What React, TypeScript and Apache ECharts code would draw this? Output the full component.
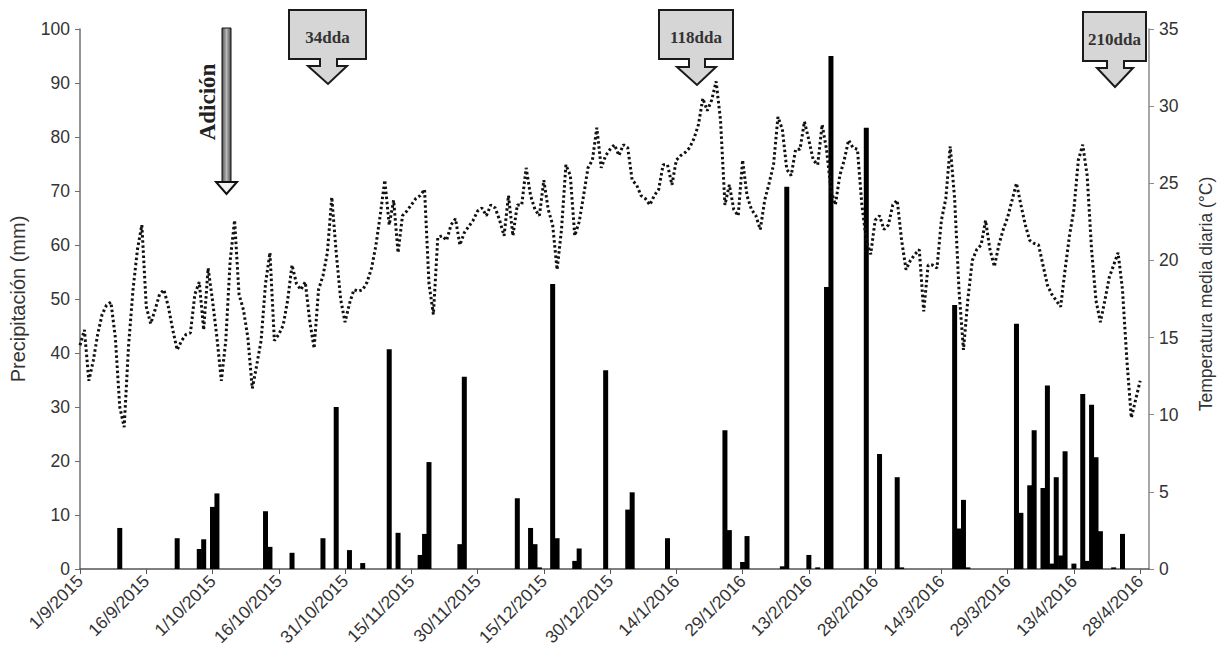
import React, { useEffect, useRef } from "react";
import * as echarts from "echarts";

// ---------- DATA ----------
const START_UTC = Date.UTC(2015, 8, 1);
const DAY_COUNT = 243; // 1/9/2015 .. 30/4/2016
const dates: string[] = Array.from({ length: DAY_COUNT }, (_, i) => {
  const d = new Date(START_UTC + i * 86400000);
  return `${d.getUTCDate()}/${d.getUTCMonth() + 1}/${d.getUTCFullYear()}`;
});

// Precipitation events (day index from 1/9/2015, mm)
const rainDays = [
  9, 22, 27, 28, 30, 31, 42, 43, 48, 55, 58, 61, 64, 70, 72, 77, 78, 79, 86, 87,
  99, 102, 103, 104, 107, 108, 112, 113, 119, 124, 125, 133, 146, 147, 150, 151,
  159, 160, 165, 167, 169, 170, 178, 181, 185, 186, 198, 199, 200, 201, 212, 213,
  215, 216, 218, 219, 220, 221, 222, 223, 225, 227, 228, 229, 230, 231, 234, 236,
];
const rainMm = [
  7.6, 5.7, 3.7, 5.5, 11.5, 14.0, 10.7, 4.1, 3.0, 5.7, 30.0, 3.5, 1.1, 40.7, 6.7, 2.6, 6.5, 19.8, 4.6, 35.6,
  13.1, 7.6, 4.6, 0.3, 52.8, 5.7, 1.5, 3.8, 36.8, 11.0, 14.2, 5.7, 25.7, 7.2, 1.3, 6.1,
  0.5, 70.8, 2.6, 0.3, 52.2, 95.0, 81.7, 21.3, 17.0, 0.3, 48.9, 7.5, 12.8, 0.3, 45.4, 10.4,
  15.5, 25.7, 15.0, 34.0, 1.0, 17.0, 2.5, 21.8, 1.0, 32.4, 1.5, 30.4, 20.7, 7.0, 0.3, 6.5,
];

// Daily mean temperature (°C), from 1/9/2015
const temperature = [
  14.5, 15.5, 12.2, 13.5, 15.2, 16.5, 17.1, 17.3, 15.0, 10.5,
  9.2, 14.5, 18.1, 20.7, 22.3, 17.0, 15.9, 16.8, 17.8, 18.1,
  17.0, 15.5, 14.2, 14.8, 15.2, 15.3, 17.8, 18.6, 15.5, 19.5,
  17.4, 15.0, 12.2, 14.8, 20.0, 22.6, 17.8, 16.8, 15.0, 11.7,
  13.2, 14.8, 18.5, 20.5, 14.8, 15.2, 15.8, 17.4, 19.7, 18.5,
  18.1, 18.6, 16.1, 14.3, 18.1, 19.0, 20.5, 24.1, 20.5, 17.5,
  16.0, 17.2, 18.1, 18.0, 18.1, 18.6, 19.5, 21.0, 23.0, 25.2,
  22.3, 23.9, 20.5, 22.9, 23.2, 23.6, 24.0, 24.2, 24.6, 18.5,
  16.5, 21.5, 21.6, 21.3, 22.3, 22.7, 21.0, 21.8, 22.2, 22.6,
  23.2, 23.4, 22.9, 23.6, 23.4, 22.6, 21.6, 24.2, 21.6, 23.6,
  23.6, 26.0, 24.2, 23.3, 22.9, 25.2, 23.3, 22.3, 19.4, 22.0,
  26.2, 25.5, 21.6, 22.5, 24.2, 26.0, 26.5, 28.6, 26.0, 26.8,
  27.2, 27.5, 26.8, 27.5, 27.3, 25.2, 24.9, 24.2, 24.0, 23.6,
  24.2, 24.6, 26.2, 26.2, 24.9, 26.5, 26.8, 27.0, 27.3, 27.9,
  28.8, 30.5, 29.7, 30.4, 31.6, 29.1, 23.6, 24.9, 23.3, 22.9,
  26.5, 24.2, 23.3, 22.9, 22.0, 23.9, 25.0, 26.2, 29.3, 28.5,
  25.9, 25.5, 27.2, 27.2, 29.0, 27.8, 26.5, 26.2, 28.8, 27.2,
  24.6, 23.6, 25.5, 26.5, 27.8, 27.3, 27.2, 23.6, 21.3, 20.4,
  22.6, 22.9, 22.0, 22.3, 23.6, 23.9, 21.3, 19.4, 20.0, 20.4,
  20.7, 16.7, 19.7, 19.7, 19.5, 22.6, 24.0, 27.4, 24.0, 18.0,
  14.2, 17.5, 20.0, 20.7, 21.0, 22.6, 20.7, 19.6, 21.0, 22.0,
  22.8, 23.9, 25.0, 23.6, 22.3, 21.3, 21.1, 21.0, 19.7, 18.4,
  17.8, 17.4, 17.0, 19.4, 21.6, 23.3, 26.5, 27.5, 25.5, 20.7,
  17.4, 16.0, 17.4, 18.9, 19.7, 20.5, 18.1, 13.5, 9.8, 11.0,
  12.2,
];

const precipitation: number[] = dates.map(() => 0);
rainDays.forEach((d, i) => {
  precipitation[d] = rainMm[i];
});
const tempSeries: (number | null)[] = dates.map((_, i) =>
  i < temperature.length ? temperature[i] : null
);

// ---------- ANNOTATIONS ----------
type Callout = { label: string; x0: number; x1: number; y0: number; y1: number; sL: number; sR: number; hL: number; hR: number; hy: number; tx: number; ty: number };
const callouts: Callout[] = [
  { label: "34dda", x0: 289, x1: 366, y0: 10, y1: 59, sL: 320, sR: 337, hL: 308, hR: 347, hy: 66, tx: 328, ty: 84 },
  { label: "118dda", x0: 659, x1: 733, y0: 10, y1: 59, sL: 689, sR: 705, hL: 677, hR: 716, hy: 67, tx: 697, ty: 85 },
  { label: "210dda", x0: 1083, x1: 1146, y0: 12, y1: 61, sL: 1107, sR: 1124, hL: 1097, hR: 1133, hy: 68, tx: 1115, ty: 87 },
];

const SANS = "'Liberation Sans', Arial, sans-serif";
const SERIF = "'Liberation Serif', 'Times New Roman', serif";

function buildGraphic() {
  const els: any[] = [];
  // Adición arrow
  els.push({
    type: "rect",
    shape: { x: 222, y: 28, width: 9, height: 154 },
    style: {
      fill: new echarts.graphic.LinearGradient(0, 0, 1, 0, [
        { offset: 0, color: "#4a4a4a" },
        { offset: 0.5, color: "#b8b8b8" },
        { offset: 1, color: "#4a4a4a" },
      ]),
      stroke: "#111",
      lineWidth: 1,
    },
  });
  els.push({
    type: "polygon",
    shape: { points: [[216, 182], [237, 182], [226.5, 194]] },
    style: { fill: "#f2f2f2", stroke: "#111", lineWidth: 2 },
  });
  els.push({
    type: "text",
    x: 207,
    y: 102,
    rotation: Math.PI / 2,
    style: {
      text: "Adición",
      font: `bold 23px ${SERIF}`,
      fill: "#222",
      align: "center",
      verticalAlign: "middle",
    },
  });
  callouts.forEach((c) => {
    els.push({
      type: "polygon",
      shape: {
        points: [
          [c.x0, c.y0], [c.x1, c.y0], [c.x1, c.y1], [c.sR, c.y1], [c.sR, c.hy],
          [c.hR, c.hy], [c.tx, c.ty], [c.hL, c.hy], [c.sL, c.hy], [c.sL, c.y1], [c.x0, c.y1],
        ],
      },
      style: { fill: "#d6d6d6", stroke: "#1a1a1a", lineWidth: 2, lineJoin: "miter" },
    });
    els.push({
      type: "text",
      x: (c.x0 + c.x1) / 2,
      y: (c.y0 + c.y1) / 2 + 3,
      style: {
        text: c.label,
        font: `bold 17px ${SERIF}`,
        fill: "#333",
        align: "center",
        verticalAlign: "middle",
      },
    });
  });
  // axis titles
  els.push({
    type: "text",
    x: 18,
    y: 299,
    rotation: Math.PI / 2,
    style: {
      text: "Precipitación (mm)",
      font: `20px ${SANS}`,
      fill: "#333",
      align: "center",
      verticalAlign: "middle",
    },
  });
  els.push({
    type: "text",
    x: 1206,
    y: 294,
    rotation: Math.PI / 2,
    style: {
      text: "Temperatura media diaria (°C)",
      font: `17.5px ${SANS}`,
      fill: "#333",
      align: "center",
      verticalAlign: "middle",
    },
  });
  return els;
}

export default function App() {
  const ref = useRef<HTMLDivElement>(null);
  useEffect(() => {
    if (!ref.current) return;
    const chart = echarts.init(ref.current, undefined, { renderer: "svg" });
    chart.setOption({
      animation: false,
      backgroundColor: "#fff",
      grid: { left: 80, right: 73, top: 29, bottom: 88, containLabel: false },
      xAxis: {
        type: "category",
        data: dates,
        boundaryGap: false,
        axisLine: { show: true, lineStyle: { color: "#555", width: 1.5 } },
        axisTick: { show: true, interval: 14, length: 5, lineStyle: { color: "#555" } },
        axisLabel: {
          interval: 14,
          rotate: 45,
          fontSize: 17.5,
          fontFamily: SANS,
          color: "#333",
          margin: 9,
        },
        splitLine: { show: false },
      },
      yAxis: [
        {
          type: "value",
          min: 0,
          max: 100,
          interval: 10,
          position: "left",
          axisLine: { show: true, lineStyle: { color: "#6f6f6f", width: 1.5 } },
          axisTick: { show: true, length: 5, lineStyle: { color: "#6f6f6f" } },
          axisLabel: { fontSize: 17.5, fontFamily: SANS, color: "#333", margin: 10 },
          splitLine: { show: false },
        },
        {
          type: "value",
          min: 0,
          max: 35,
          interval: 5,
          position: "right",
          axisLine: { show: true, lineStyle: { color: "#8a8a8a", width: 1.5 } },
          axisTick: { show: true, length: 5, lineStyle: { color: "#8a8a8a" } },
          axisLabel: { fontSize: 17.5, fontFamily: SANS, color: "#333", margin: 10 },
          splitLine: { show: false },
        },
      ],
      series: [
        {
          name: "Precipitación",
          type: "bar",
          yAxisIndex: 0,
          data: precipitation,
          barWidth: 5,
          itemStyle: { color: "#000" },
        },
        {
          name: "Temperatura",
          type: "line",
          yAxisIndex: 1,
          data: tempSeries,
          showSymbol: false,
          lineStyle: { color: "#111", width: 3, type: [2.5, 2.6] },
        },
      ],
      graphic: buildGraphic(),
    });
    return () => chart.dispose();
  }, []);
  return (
    <div
      ref={ref}
      style={{ position: "fixed", left: 0, top: 0, width: 1222, height: 657 }}
    />
  );
}
